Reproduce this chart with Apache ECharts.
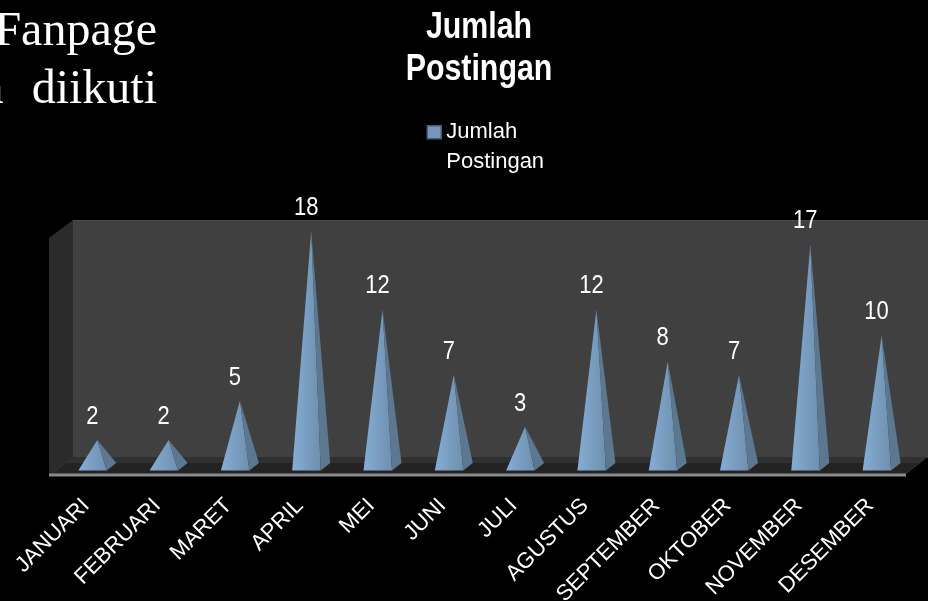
<!DOCTYPE html>
<html><head><meta charset="utf-8">
<style>html,body{margin:0;padding:0;background:#000;overflow:hidden}#c{width:928px;height:601px}</style>
<script src="https://cdn.jsdelivr.net/npm/echarts@6/dist/echarts.min.js"></script>
</head><body><div id="c"></div>
<script>
const categories=['JANUARI','FEBRUARI','MARET','APRIL','MEI','JUNI','JULI','AGUSTUS','SEPTEMBER','OKTOBER','NOVEMBER','DESEMBER'];
const postingan=[2,2,5,18,12,7,3,12,8,7,17,10];
const seriesName='Jumlah Postingan';
const chart=echarts.init(document.getElementById('c'),null,{renderer:'canvas'});
const poly=(points,fill,z)=>({type:'polygon',z:z||-10,silent:true,shape:{points},style:{fill}});
const hGrad=(a,b)=>({type:'linear',x:0,y:0,x2:1,y2:0,colorStops:[{offset:0,color:a},{offset:1,color:b}]});
const serif='48px "Liberation Serif",serif';
chart.setOption({
  backgroundColor:'#000',
  animation:false,
  legend:{left:426.5,top:116,padding:0,itemWidth:14,itemHeight:60,itemGap:0,
    data:[{name:seriesName,icon:'path://M0 0L0 0Z M0 9H14V22H0Z M0 60L0 60Z',itemStyle:{color:'#7496b9',borderColor:'#3f5f80',borderWidth:1.5}}],
    formatter:()=>'Jumlah\nPostingan',
    textStyle:{color:'#fff',fontFamily:'"Liberation Sans",Arial',fontSize:22,lineHeight:30}},
  grid:{left:61.65,right:10.75,top:205,bottom:135,outerBoundsMode:'none'},
  xAxis:{type:'category',data:categories,axisLine:{show:false},axisTick:{show:false},
    axisLabel:{interval:0,rotate:45,color:'#fff',fontFamily:'"Liberation Sans",Arial',fontSize:22,margin:25,padding:[0,16,0,0]}},
  yAxis:{type:'value',min:0,max:20,show:false},
  graphic:[
    {type:'text',z:5,x:479,y:49,scaleX:0.82,style:{text:'Jumlah\nPostingan',x:0,y:0,align:'center',verticalAlign:'middle',lineHeight:42,fill:'#fff',font:'bold 37px "Liberation Sans",Arial'}},
    {type:'text',z:5,style:{text:'Fanpage',x:157,y:32,align:'right',verticalAlign:'middle',fill:'#fff',font:serif}},
    {type:'text',z:5,style:{text:'diikuti',x:157,y:90,align:'right',verticalAlign:'middle',fill:'#fff',font:serif}},
    {type:'text',z:5,style:{text:'a',x:3.5,y:90,align:'right',verticalAlign:'middle',fill:'#fff',font:serif}},
    poly([[73,220],[928,220],[928,458],[73,458]],'#404040'),
    {type:'line',z:-9,silent:true,shape:{x1:73,y1:220.5,x2:928,y2:220.5},style:{stroke:'#4c4c4c',lineWidth:1}},
    poly([[49,238],[73,220],[73,458],[49,474]],'#2b2b2b'),
    poly([[49,474],[73,457],[928,457],[906,474]],'#303030'),
    poly([[53,474],[66,463],[918,463],[904,474]],'#232323'),
    {type:'rect',z:-8,silent:true,shape:{x:49,y:473.5,width:857,height:3},style:{fill:'#8a8a8a'}}
  ],
  series:[{
    type:'custom',name:seriesName,coordinateSystem:'cartesian2d',z:3,clip:false,
    data:postingan,
    encode:{x:0,y:1},
    renderItem(params,api){
      const i=params.dataIndex, v=postingan[i];
      const top=api.coord([i,v]), base=api.coord([i,0]);
      const cx=top[0], y0=base[1];
      const fl=[cx-19,y0+4.5], fr=[cx+9.5,y0+4.5], rb=[cx+19,y0-3];
      return {type:'group',children:[
        {type:'polygon',shape:{points:[top,fl,fr]},style:{fill:hGrad('#85add4','#6f8fae')}},
        {type:'polygon',shape:{points:[top,fr,rb]},style:{fill:'#5c7790'}},
        {type:'text',x:cx-5,y:top[1]-23,scaleX:0.88,style:{text:String(v),x:0,y:0,align:'center',verticalAlign:'middle',fill:'#fff',font:'25px "Liberation Sans",Arial'}}
      ]};
    }
  }]
});
</script></body></html>
